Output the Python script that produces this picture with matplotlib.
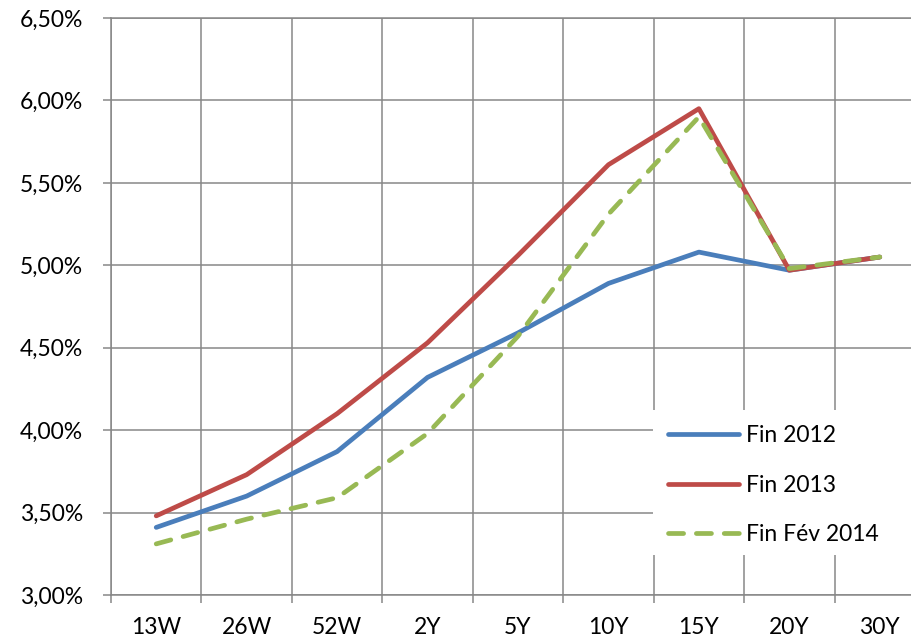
import matplotlib
matplotlib.use("Agg")
import matplotlib.pyplot as plt
from matplotlib.patches import Rectangle
from matplotlib.ticker import FixedLocator, FuncFormatter

categories = ['13W', '26W', '52W', '2Y', '5Y', '10Y', '15Y', '20Y', '30Y']
fin_2012 = [3.41, 3.60, 3.87, 4.32, 4.59, 4.89, 5.08, 4.97, 5.05]
fin_2013 = [3.48, 3.73, 4.10, 4.53, 5.06, 5.61, 5.95, 4.97, 5.05]
fin_fev_2014 = [3.31, 3.46, 3.59, 3.98, 4.57, 5.31, 5.90, 4.98, 5.05]
yticks = [3.0, 3.5, 4.0, 4.5, 5.0, 5.5, 6.0, 6.5]

plt.rcParams['font.family'] = ['Lato', 'DejaVu Sans']
grid_color = '#878787'
fs = 16.5

W, H = 911, 640
fig = plt.figure(figsize=(W / 100, H / 100), dpi=100)
# plot area runs past the right edge of the image, like the source crop
ax = fig.add_axes([111 / W, 1 - 595 / H, (925 - 111) / W, (595 - 18) / H])

x = list(range(len(categories)))
lw = 3.4
ax.plot(x, fin_2012, color='#4A7EBB', lw=lw, solid_capstyle='round',
        solid_joinstyle='round', label='Fin 2012', zorder=3)
ax.plot(x, fin_2013, color='#BE4B48', lw=lw, solid_capstyle='round',
        solid_joinstyle='round', label='Fin 2013', zorder=3)
ax.plot(x, fin_fev_2014, color='#98B954', lw=lw, linestyle=(0, (3.2, 2.7)),
        dash_capstyle='round', dash_joinstyle='round',
        label='Fin Fév 2014', zorder=3)

ax.set_xlim(-0.5, len(categories) - 0.5)
ax.set_ylim(yticks[0], yticks[-1])

# x: labels at categories, grid + ticks between categories
ax.set_xticks(x)
ax.set_xticklabels(categories)
ax.xaxis.set_minor_locator(FixedLocator([i - 0.5 for i in range(len(categories) + 1)]))
ax.tick_params(axis='x', which='major', length=0, pad=16, labelsize=fs)
ax.tick_params(axis='x', which='minor', length=6, width=1.1, color=grid_color,
               direction='out')
ax.grid(True, axis='x', which='minor', color=grid_color, lw=1.1)

ax.set_yticks(yticks)
ax.yaxis.set_major_formatter(FuncFormatter(lambda v, p: f'{v:.2f}%'.replace('.', ',')))
ax.tick_params(axis='y', length=6, width=1.1, color=grid_color, pad=14,
               labelsize=fs)
ax.grid(True, axis='y', which='major', color=grid_color, lw=1.1)
ax.set_axisbelow(True)

for side in ['left', 'bottom', 'top']:
  ax.spines[side].set_color(grid_color)
  ax.spines[side].set_linewidth(1.1)
ax.spines['right'].set_visible(False)

# white legend area
ax.add_patch(Rectangle((653 / W, 1 - 555 / H), (925 - 653) / W, 145 / H,
                       transform=fig.transFigure, facecolor='white',
                       edgecolor='none', zorder=4, clip_on=False))
leg = ax.legend(loc='upper left', bbox_to_anchor=(653 / W, 1 - 410 / H),
                bbox_transform=fig.transFigure, frameon=False, fontsize=fs,
                handlelength=3.1, handletextpad=0.3, labelspacing=1.25,
                borderpad=0.65, borderaxespad=0)
leg.set_zorder(5)

fig.savefig('out.png', dpi=100)
